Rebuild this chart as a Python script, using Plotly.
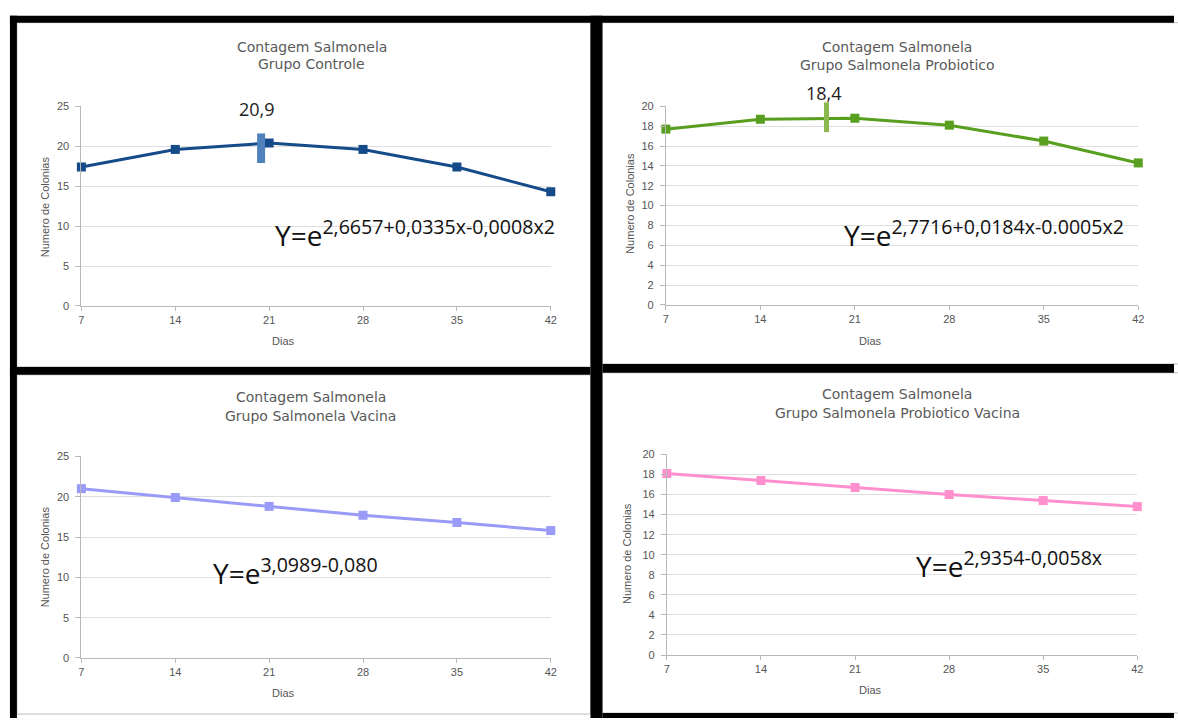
import plotly.graph_objects as go

W, H = 1178, 722

# ---------------- data ----------------
dias = [7, 14, 21, 28, 35, 42]
controle = [17.4, 19.6, 20.4, 19.6, 17.4, 14.3]
probiotico = [17.7, 18.7, 18.8, 18.1, 16.5, 14.3]
vacina = [21.0, 19.9, 18.8, 17.7, 16.8, 15.8]
probiotico_vacina = [18.1, 17.4, 16.7, 16.0, 15.4, 14.8]

grupos = ["Grupo Controle", "Grupo Salmonela Probiotico",
          "Grupo Salmonela Vacina", "Grupo Salmonela Probiotico Vacina"]
series = [controle, probiotico, vacina, probiotico_vacina]
cores = ["#164b8a", "#589f1f", "#9a9af8", "#ff8fcd"]
y_max = [25, 20, 25, 20]
y_dtick = [5, 2, 5, 2]
equacoes = ["2,6657+0,0335x-0,0008x2", "2,7716+0,0184x-0.0005x2",
            "3,0989-0,080", "2,9354-0,0058x"]

# peak markers (panels 1 and 2): day position, label, y-span
pico_dia = [20.4, 18.9]
pico_rotulo = ["20,9", "18,4"]
pico_y0 = [17.9, 17.4]
pico_y1 = [21.6, 20.4]
pico_rotulo_y = [24.6, 21.3]
pico_rotulo_dia = [20.1, 18.7]
pico_cor = ["#4f81bd", "#8db84e"]
pico_largura = [8, 5]

# ---------------- layout geometry (pixels) ----------------
# plot areas: x0, x1, ytop, ybottom
areas = [(79, 552, 102, 305), (668, 1144, 102, 304),
         (79, 552, 458, 663), (669, 1143, 456, 660)]
titulo_pos = [(311, 42, 59), (901, 42, 60), (310, 398, 417), (901, 395, 414)]
dias_pos = [(283, 341), (874, 341), (283, 699), (874, 696)]
ytitulo_pos = [(42, 204), (631, 201), (42, 560), (629, 557)]
eq_pos = [(272, 231), (845, 231), (210, 575), (918, 568)]


def px(x):
    return x / W


def py(y):
    return 1 - y / H


def data_to_paper(i, xv, yv):
    x0, x1, yt, yb = areas[i]
    xp = x0 + (xv - 7) / 35 * (x1 - x0)
    yp = yb - yv / y_max[i] * (yb - yt)
    return px(xp), py(yp)


fig = go.Figure()
annotations = []
shapes = []
tick_font = dict(family="Liberation Sans", size=11, color="#555555")

for i in range(4):
    n = "" if i == 0 else str(i + 1)
    x0, x1, yt, yb = areas[i]
    fig.add_trace(go.Scatter(
        x=dias, y=series[i], mode="lines+markers",
        line=dict(color=cores[i], width=3),
        marker=dict(symbol="square", size=9, color=cores[i]),
        cliponaxis=False, showlegend=False,
        xaxis="x" + n, yaxis="y" + n,
    ))
    fig.update_layout(**{
        "xaxis" + n: dict(
            domain=[px(x0), px(x1)], anchor="y" + n, range=[7, 42],
            tickvals=dias, showgrid=False, zeroline=False,
            showline=True, linecolor="#b8b8b8", linewidth=1,
            ticks="outside", ticklen=4, tickcolor="#b8b8b8",
            tickfont=tick_font,
        ),
        "yaxis" + n: dict(
            domain=[py(yb), py(yt)], anchor="x" + n, range=[0, y_max[i]],
            dtick=y_dtick[i], tick0=0, showgrid=True, gridcolor="#dedede",
            gridwidth=1, zeroline=False,
            showline=True, linecolor="#b8b8b8", linewidth=1,
            ticks="outside", ticklen=5, tickcolor="#b8b8b8",
            ticklabelstandoff=4,
            tickfont=tick_font,
        ),
    })
    tx, ty1, ty2 = titulo_pos[i]
    for txt, ty in (("Contagem Salmonela", ty1), (grupos[i], ty2)):
        annotations.append(dict(
            text=txt, x=px(tx), y=py(ty), xref="paper", yref="paper",
            xanchor="center", yanchor="middle", showarrow=False,
            font=dict(family="DejaVu Sans", size=14, color="#5a5a5a")))
    dx, dy = dias_pos[i]
    annotations.append(dict(
        text="Dias", x=px(dx), y=py(dy), xref="paper", yref="paper",
        xanchor="center", yanchor="middle", showarrow=False,
        font=tick_font))
    ax, ay = ytitulo_pos[i]
    annotations.append(dict(
        text="Numero de Colonias", x=px(ax), y=py(ay), xref="paper",
        yref="paper", xanchor="center", yanchor="middle", textangle=-90,
        showarrow=False, font=tick_font))
    ex, ey = eq_pos[i]
    annotations.append(dict(
        text="Y=e<sup>" + equacoes[i] + "</sup>", x=px(ex), y=py(ey),
        xref="paper", yref="paper", xanchor="left", yanchor="middle",
        showarrow=False,
        font=dict(family="Open Sans", size=28, color="#111111")))

# peak bars + labels (converted to paper so they are not clipped)
for j in range(2):
    bx, by0 = data_to_paper(j, pico_dia[j], pico_y0[j])
    _, by1 = data_to_paper(j, pico_dia[j], pico_y1[j])
    shapes.append(dict(
        type="line", xref="paper", yref="paper",
        x0=bx, x1=bx, y0=by0, y1=by1,
        line=dict(color=pico_cor[j], width=pico_largura[j])))
    lx, ly = data_to_paper(j, pico_rotulo_dia[j], pico_rotulo_y[j])
    annotations.append(dict(
        text=pico_rotulo[j], x=lx, y=ly,
        xref="paper", yref="paper", xanchor="center", yanchor="middle",
        showarrow=False,
        font=dict(family="Open Sans", size=18, color="#222222")))

# black frame bars (pixel rectangles)
barras = [(7, 10, 1180, 17), (7, 10, 14, 724), (592, 10, 604, 724),
          (7, 367, 592, 375), (604, 364, 1180, 373), (604, 719, 1180, 724)]
for bx0, by0, bx1, by1 in barras:
    shapes.append(dict(
        type="rect", xref="paper", yref="paper",
        x0=px(bx0), x1=px(bx1), y0=py(by1), y1=py(by0),
        fillcolor="#000000", line=dict(width=0), layer="above"))
# thin gray inner edges
for gx0, gy0, gx1, gy1 in [(14, 17, 592, 367), (604, 17, 1185, 364),
                           (14, 375, 592, 720), (604, 373, 1185, 719)]:
    shapes.append(dict(
        type="rect", xref="paper", yref="paper",
        x0=px(gx0), x1=px(gx1), y0=py(gy1), y1=py(gy0),
        fillcolor="rgba(0,0,0,0)", line=dict(width=1, color="#bdbdbd"),
        layer="below"))

fig.update_layout(
    width=W, height=H, margin=dict(l=0, r=0, t=0, b=0),
    paper_bgcolor="white", plot_bgcolor="white",
    annotations=annotations, shapes=shapes, showlegend=False,
)

fig.write_html(
    "out.html",
    config={"displayModeBar": False},
    post_script="document.body.style.margin='0';"
                "document.body.style.overflow='hidden';",
)
